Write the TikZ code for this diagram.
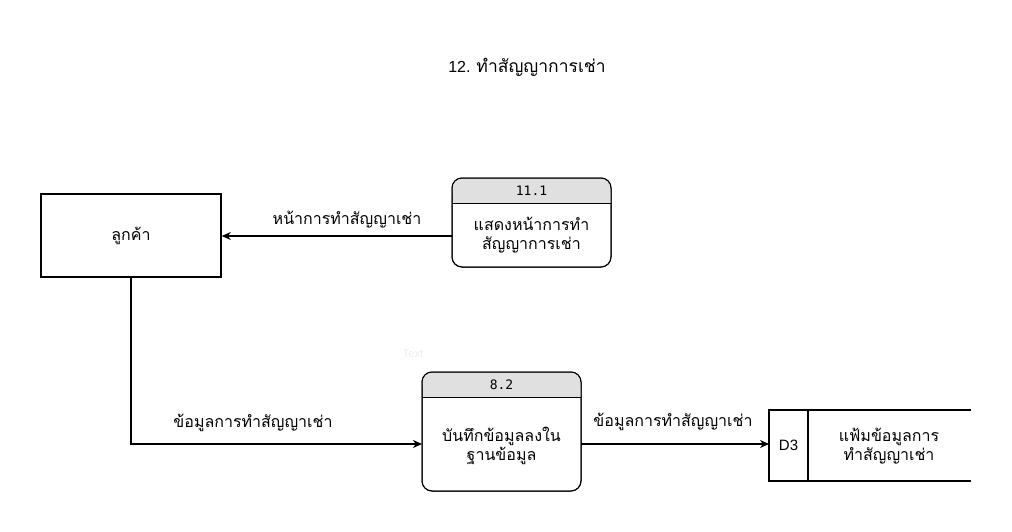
\documentclass[tikz,border=0pt]{standalone}
\usepackage{fontspec}
\setmainfont{Liberation Sans}
\newfontfamily\thai[Script=Thai]{Loma}
\newfontfamily\monof{DejaVu Sans Mono}
\usetikzlibrary{arrows.meta}
\tikzset{
  ent/.style={draw, line width=1.5pt, fill=white},
  flow/.style={draw, line width=1.5pt, -{Stealth[length=9pt,width=8pt]}},
  lbl/.style={font=\thai\fontsize{16}{19}\selectfont, align=center},
  hdr/.style={font=\monof\fontsize{13}{15}\selectfont},
}
\begin{document}
\begin{tikzpicture}[x=1pt,y=-1pt]
\useasboundingbox (0,0) rectangle (1012,532);
% title
\node (title) at (527,67) {\fontsize{16}{18}\selectfont 12. {\thai\fontsize{17.5}{18}\selectfont ทำสัญญาการเช่า}};
% faint text
\node[text=black!8, font=\fontsize{11}{12}\selectfont] (ghost) at (413,354) {Text};
% customer
\node[ent, minimum width=180pt, minimum height=83pt, lbl] (cust) at (131,235.5) {ลูกค้า};
% process 11.1
\draw[line width=1pt, rounded corners=10pt, fill=white] (452,178) rectangle (611,267);
\fill[black!12, rounded corners=10pt] (452.5,178.5) -- (610.5,178.5) -- (610.5,203) -- (452.5,203) -- cycle;
\fill[black!12] (452.5,192) rectangle (610.5,203);
\draw[line width=1pt, rounded corners=10pt] (452,178) rectangle (611,267);
\draw[line width=1pt] (452,203) -- (611,203);
\node[hdr] (p11h) at (531.5,191) {11.1};
\node[lbl] (p11) at (531.5,235) {แสดงหน้าการทำ\\สัญญาการเช่า};
\coordinate (p11w) at (452,236);
% process 8.2
\draw[line width=1pt, rounded corners=10pt, fill=white] (422,372) rectangle (581,491);
\fill[black!12, rounded corners=10pt] (422.5,372.5) -- (580.5,372.5) -- (580.5,397) -- (422.5,397) -- cycle;
\fill[black!12] (422.5,386) rectangle (580.5,397);
\draw[line width=1pt, rounded corners=10pt] (422,372) rectangle (581,491);
\draw[line width=1pt] (422,397) -- (581,397);
\node[hdr] (p82h) at (501.5,385) {8.2};
\node[lbl] (p82) at (501.5,446) {บันทึกข้อมูลลงใน\\ฐานข้อมูล};
\coordinate (p82w) at (422,444);
\coordinate (p82e) at (581,444);
% data store D3
\draw[line width=1.5pt] (971,410) -- (769,410) -- (769,481) -- (971,481);
\draw[line width=1.5pt] (808,410) -- (808,481);
\node[font=\fontsize{15}{16}\selectfont] (d3id) at (788.5,445.5) {D3};
\node[lbl] (d3) at (889,446) {แฟ้มข้อมูลการ\\ทำสัญญาเช่า};
\coordinate (d3w) at (769,444);
% flows
\draw[flow] (p11w) -- (cust.east |- p11w);
\node[lbl] (l1) at (347,220) {หน้าการทำสัญญาเช่า};
\draw[flow] (cust.south) -- (cust.south |- p82w) -- (p82w);
\node[lbl] (l2) at (253,423) {ข้อมูลการทำสัญญาเช่า};
\draw[flow] (p82e) -- (d3w);
\node[lbl] (l3) at (673,422) {ข้อมูลการทำสัญญาเช่า};
\end{tikzpicture}
\end{document}
